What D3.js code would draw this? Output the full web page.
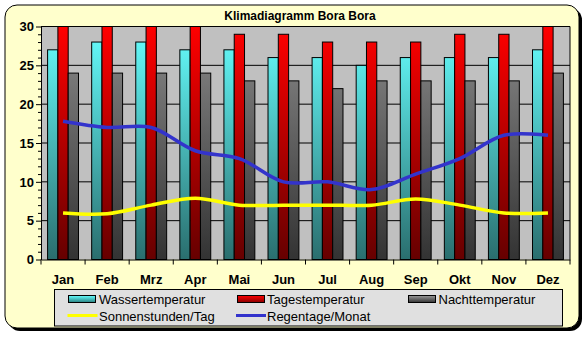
<!DOCTYPE html>
<html><head><meta charset="utf-8">
<script src="https://cdn.jsdelivr.net/npm/d3@7"></script>
<style>body{margin:0;background:#fff}svg{display:block}</style>
</head><body>
<svg id="c" width="588" height="337"></svg>
<script>
const months = ["Jan","Feb","Mrz","Apr","Mai","Jun","Jul","Aug","Sep","Okt","Nov","Dez"];
const wasser = [27,28,28,27,27,26,26,25,26,26,26,27];
const tages  = [30,30,30,30,29,29,28,28,28,29,29,30];
const nacht  = [24,24,24,24,23,23,22,23,23,23,23,24];
const sonne  = [6,5.9,7,7.9,7,7,7,7,7.8,7,6,6];
const regen  = [17.8,17,17,14,13,10,10,9,11,13,16,16];
const yTicks = [0,5,10,15,20,25,30];
const title = "Klimadiagramm Bora Bora";
const seriesNames = ["Wassertemperatur","Tagestemperatur","Nachttemperatur","Sonnenstunden/Tag","Regentage/Monat"];

const svg = d3.select("#c");
const font = "'Liberation Sans', Arial, sans-serif";
const P = {l:41, r:570, t:26.5, b:259.5};

const defs = svg.append("defs");
function grad(id, top, bot){
  const g = defs.append("linearGradient").attr("id",id).attr("gradientUnits","userSpaceOnUse")
    .attr("x1",0).attr("x2",0).attr("y1",P.t).attr("y2",P.b);
  g.append("stop").attr("offset","0%").attr("stop-color",top);
  g.append("stop").attr("offset","100%").attr("stop-color",bot);
}
grad("gW","#66ffff","#2a6e6e");
grad("gT","#ff0000","#660000");
grad("gN","#8a8a8a","#333333");
function lgrad(id, top, bot){
  const g = defs.append("linearGradient").attr("id",id).attr("x1",0).attr("x2",0).attr("y1",0).attr("y2",1);
  g.append("stop").attr("offset","0%").attr("stop-color",top);
  g.append("stop").attr("offset","100%").attr("stop-color",bot);
}
lgrad("lW","#66ffff","#2a8080");
lgrad("lT","#ff0000","#880000");
lgrad("lN","#999999","#333333");

// chart area with shadow
svg.append("rect").attr("x",8).attr("y",8).attr("width",574).attr("height",323).attr("rx",12).attr("fill","#000");
svg.append("rect").attr("x",5).attr("y",5).attr("width",574).attr("height",323).attr("rx",12)
  .attr("fill","#ffffcc").attr("stroke","#000").attr("stroke-width",1);

svg.append("text").attr("x",300).attr("y",20).attr("text-anchor","middle")
  .attr("font-family",font).attr("font-weight","bold").attr("font-size",12).text(title);

const x = d3.scaleBand().domain(months).range([P.l,P.r]).paddingInner(0).paddingOuter(0);
const y = d3.scaleLinear().domain([0,30]).range([P.b,P.t]);

svg.append("rect").attr("x",P.l).attr("y",P.t).attr("width",P.r-P.l).attr("height",P.b-P.t).attr("fill","#c0c0c0");

// gridlines
svg.append("g").selectAll("line").data(yTicks.filter(d=>d>0)).join("line")
  .attr("x1",P.l).attr("x2",P.r).attr("y1",d=>y(d)).attr("y2",d=>y(d)).attr("stroke","#000").attr("stroke-width",1);

// bars
const bw = 10.3;
const groups = [[wasser,"url(#gW)"],[tages,"url(#gT)"],[nacht,"url(#gN)"]];
groups.forEach(([vals,fill],i)=>{
  svg.append("g").selectAll("rect").data(vals).join("rect")
    .attr("x",(d,j)=>x(months[j])+x.bandwidth()/2 - 1.5*bw + i*bw)
    .attr("y",d=>y(d)).attr("width",bw).attr("height",d=>y(0)-y(d))
    .attr("fill",fill).attr("stroke","#000").attr("stroke-width",1);
});

// lines
const line = d3.line().x((d,j)=>x(months[j])+x.bandwidth()/2).y(d=>y(d)).curve(d3.curveCatmullRom.alpha(0.5));
svg.append("path").attr("d",line(sonne)).attr("fill","none").attr("stroke","#ffff00").attr("stroke-width",3.5);
svg.append("path").attr("d",line(regen)).attr("fill","none").attr("stroke","#3333cc").attr("stroke-width",3.5);

// y axis
const ya = svg.append("g").attr("transform",`translate(${P.l},0)`)
  .call(d3.axisLeft(y).tickValues(yTicks).tickSize(5).tickSizeOuter(0));
ya.select(".domain").attr("stroke","#000");
ya.selectAll("text").attr("font-family",font).attr("font-weight","bold").attr("font-size",13).attr("fill","#000").attr("x",-7);
svg.append("g").selectAll("line").data(d3.range(0,31,1).filter(d=>d%5)).join("line")
  .attr("x1",P.l-3).attr("x2",P.l).attr("y1",d=>y(d)+0.5).attr("y2",d=>y(d)+0.5).attr("stroke","#000");

// x axis
const xa = svg.append("g").attr("transform",`translate(0,${P.b})`)
  .call(d3.axisBottom(x).tickSize(0).tickPadding(15).tickSizeOuter(0));
xa.select(".domain").attr("stroke","#000");
xa.selectAll("text").attr("font-family",font).attr("font-weight","bold").attr("font-size",13).attr("fill","#000");
svg.append("g").selectAll("line").data(months.concat(["end"])).join("line")
  .attr("x1",(d,i)=>P.l+i*x.bandwidth()).attr("x2",(d,i)=>P.l+i*x.bandwidth())
  .attr("y1",P.b).attr("y2",P.b+5).attr("stroke","#000");
svg.append("line").attr("x1",P.r).attr("x2",P.r).attr("y1",P.t).attr("y2",P.b).attr("stroke","#000");

// legend
const lg = svg.append("g");
lg.append("rect").attr("x",54.5).attr("y",289.5).attr("width",508).attr("height",36.5).attr("fill","#e0e0e0").attr("stroke","#000");
const items = [
  {n:seriesNames[0],t:"bar",f:"url(#lW)",x:68,y:299,tx:99},
  {n:seriesNames[1],t:"bar",f:"url(#lT)",x:237,y:299,tx:267},
  {n:seriesNames[2],t:"bar",f:"url(#lN)",x:408,y:299,tx:438.5},
  {n:seriesNames[3],t:"line",f:"#ffff00",x:67.5,y:315.5,tx:99},
  {n:seriesNames[4],t:"line",f:"#3333cc",x:236,y:315.5,tx:267}
];
items.forEach(it=>{
  if(it.t==="bar"){
    lg.append("rect").attr("x",it.x+0.5).attr("y",it.y-3.5).attr("width",27).attr("height",7).attr("fill",it.f).attr("stroke","#000");
  } else {
    lg.append("line").attr("x1",it.x).attr("x2",it.x+30).attr("y1",it.y).attr("y2",it.y).attr("stroke",it.f).attr("stroke-width",3);
  }
  lg.append("text").attr("x",it.tx).attr("y",it.y+5).attr("font-family",font).attr("font-size",13).text(it.n);
});
</script>
</body></html>
